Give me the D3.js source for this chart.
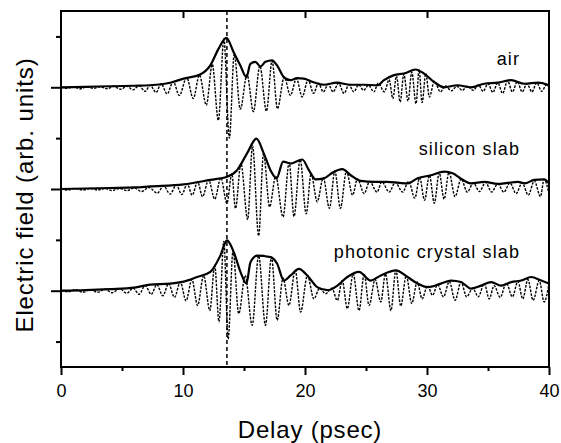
<!DOCTYPE html>
<html><head><meta charset="utf-8">
<script src="https://cdn.jsdelivr.net/npm/d3@7"></script>
<style>body{margin:0;background:#fff}svg{display:block}</style>
</head><body><svg id="c" width="561" height="443"></svg>
<script>
// ---- data ----
const xTicks = [0, 10, 20, 30, 40];
const xMinorTicks = [5, 15, 25, 35];
const yMajorTicks = [1, 3, 5];
const yMinorTicks = [0, 2, 4, 6];
const traceLabels = ["air", "silicon slab", "photonic crystal slab"];
const traceOffsets = [5, 3, 1];
const referenceDelay = 13.6;

const airField = [[0,0],[0.5,-0.02],[1,0.01],[1.6,-0.03],[2.1,0.01],[2.7,-0.02],[3.2,0.01],[3.8,-0.03],[4.3,0.02],[4.9,-0.04],[5.4,0.02],[5.9,-0.05],[6.4,0.03],[6.9,-0.08],[7.3,0.04],[7.8,-0.1],[8.2,0.07],[8.7,-0.13],[9.2,0.11],[9.7,-0.16],[10.3,0.19],[10.84,-0.22],[11.35,0.24],[11.91,-0.35],[12.4,0.45],[12.9,-0.65],[13.35,0.95],[13.8,-1.0],[14.2,0.65],[14.7,-0.43],[15.25,0.25],[15.77,-0.48],[16.3,0.42],[16.84,-0.47],[17.3,0.52],[17.74,-0.42],[18.3,0.2],[18.8,-0.16],[19.3,0.17],[19.77,-0.19],[20.25,0.15],[20.7,-0.12],[21.1,0.08],[21.5,-0.09],[21.9,0.06],[22.3,-0.09],[22.75,0.08],[23.2,-0.12],[23.6,0.05],[24.0,-0.09],[24.4,0.05],[24.8,-0.06],[25.2,0.04],[25.65,-0.09],[26.0,0.08],[26.5,-0.09],[26.9,0.15],[27.2,-0.22],[27.5,0.22],[27.8,-0.29],[28.1,0.26],[28.45,-0.27],[28.75,0.3],[29.1,-0.32],[29.35,0.34],[29.6,-0.3],[29.9,0.27],[30.2,-0.19],[30.6,0.12],[31.1,-0.09],[31.5,0.03],[32.0,-0.07],[32.45,0.02],[32.9,-0.06],[33.3,0.02],[33.8,-0.06],[34.2,0.05],[34.6,-0.08],[35.0,0.07],[35.4,-0.1],[35.8,0.09],[36.2,-0.12],[36.6,0.13],[37.0,-0.09],[37.4,0.11],[37.8,-0.09],[38.2,0.07],[38.6,-0.09],[39.0,0.09],[39.4,-0.08],[39.8,0.05],[40,0.0]];
const airEnvelope = [[0,0],[2,0.01],[4,0.02],[6,0.03],[7.3,0.04],[8.95,0.09],[10.05,0.17],[11.4,0.25],[12.24,0.43],[12.92,0.76],[13.55,0.97],[14.15,0.69],[14.7,0.43],[15.2,0.2],[15.52,0.46],[15.93,0.5],[16.35,0.41],[16.76,0.5],[17.3,0.53],[17.71,0.43],[18.26,0.2],[18.8,0.14],[19.35,0.18],[19.9,0.17],[20.7,0.1],[21.55,0.05],[22.6,0.09],[23.74,0.05],[24.8,0.05],[25.93,0.04],[26.47,0.14],[27.3,0.24],[28.1,0.27],[29.07,0.35],[29.76,0.27],[30.6,0.1],[31.4,0.0],[32.5,0.04],[33.6,0.0],[34.7,0.07],[35.8,0.09],[36.9,0.14],[38.0,0.07],[39.1,0.09],[40,0.04]];

const siliconField = [[0,0],[0.6,-0.02],[1.1,0.01],[1.8,-0.02],[2.4,0.01],[3.0,-0.02],[3.6,0.01],[4.2,-0.03],[4.8,0.01],[5.4,-0.03],[6.0,0.02],[6.6,-0.05],[7.2,0.03],[7.9,-0.08],[8.4,0.06],[8.95,-0.1],[9.45,0.08],[9.9,-0.11],[10.35,0.1],[10.75,-0.12],[11.2,0.14],[11.6,-0.15],[12.1,0.18],[12.6,-0.2],[13.1,0.22],[13.6,-0.28],[14.0,0.3],[14.3,-0.38],[14.75,0.5],[15.3,-0.6],[15.7,0.85],[16.2,-0.92],[16.6,0.7],[17.1,-0.35],[17.6,0.25],[18.2,-0.55],[18.7,0.52],[19.1,-0.54],[19.6,0.58],[20.1,-0.49],[20.5,0.3],[21.0,-0.25],[21.5,0.22],[22.0,-0.38],[22.45,0.35],[22.9,-0.38],[23.4,0.35],[23.9,-0.12],[24.3,0.2],[24.85,-0.09],[25.3,0.15],[25.9,-0.06],[26.3,0.14],[26.9,-0.06],[27.4,0.13],[28.0,-0.06],[28.5,0.15],[29.0,-0.18],[29.4,0.22],[29.8,-0.22],[30.2,0.27],[30.6,-0.28],[31.0,0.32],[31.4,-0.2],[31.8,0.33],[32.3,-0.15],[32.8,0.2],[33.3,-0.06],[33.8,0.12],[34.3,-0.05],[34.8,0.13],[35.3,-0.06],[35.8,0.1],[36.3,-0.06],[36.8,0.12],[37.3,-0.09],[37.8,0.12],[38.3,-0.12],[38.8,0.16],[39.3,-0.15],[39.6,0.19],[40,-0.1]];
const siliconEnvelope = [[0,0],[2,0.01],[4,0.02],[6,0.03],[7.31,0.05],[10.05,0.09],[12.24,0.18],[13.61,0.24],[14.43,0.37],[15.25,0.7],[16.02,0.99],[16.62,0.7],[17.17,0.37],[17.67,0.21],[18.21,0.54],[18.82,0.5],[19.78,0.58],[20.32,0.37],[20.87,0.19],[21.56,0.21],[22.24,0.32],[23.06,0.39],[23.75,0.27],[24.57,0.16],[25.67,0.14],[26.76,0.14],[27.72,0.12],[28.4,0.11],[29.23,0.21],[30.32,0.27],[31.42,0.34],[32.1,0.31],[32.93,0.18],[33.61,0.11],[34.7,0.14],[35.8,0.1],[36.6,0.12],[37.45,0.14],[38.0,0.11],[38.8,0.18],[39.6,0.19],[40,0.11]];

const photonicField = [[0,0],[0.6,-0.02],[1.2,0.02],[1.8,-0.03],[2.4,0.02],[3.0,-0.03],[3.6,0.03],[4.2,-0.04],[4.8,0.04],[5.4,-0.05],[5.9,0.05],[6.4,-0.07],[6.9,0.1],[7.4,-0.07],[7.86,0.12],[8.35,-0.1],[8.82,0.14],[9.3,-0.13],[9.78,0.17],[10.25,-0.2],[10.73,0.22],[11.2,-0.29],[11.69,0.3],[12.2,-0.39],[12.6,0.5],[12.95,-0.61],[13.35,0.97],[13.7,-0.95],[14.1,0.78],[14.57,-0.45],[15.1,0.3],[15.67,-0.68],[16.2,0.69],[16.76,-0.68],[17.25,0.66],[17.72,-0.58],[18.2,0.25],[18.68,-0.29],[19.2,0.4],[19.64,-0.42],[20.2,0.3],[20.73,-0.16],[21.2,0.05],[21.69,-0.06],[22.2,0.05],[22.65,-0.19],[23.05,0.2],[23.47,-0.35],[23.95,0.33],[24.43,-0.39],[24.85,0.33],[25.25,-0.29],[25.75,0.22],[26.21,-0.22],[26.6,0.33],[27.04,-0.39],[27.45,0.4],[27.85,-0.3],[28.3,0.3],[28.75,-0.25],[29.2,0.17],[29.6,-0.16],[30.05,0.1],[30.45,-0.09],[30.87,0.12],[31.35,-0.12],[31.83,0.18],[32.3,-0.19],[32.79,0.17],[33.25,-0.12],[33.75,0.05],[34.2,-0.12],[34.7,0.14],[35.1,-0.16],[35.5,0.1],[36.0,-0.13],[36.5,0.15],[37.0,-0.12],[37.45,0.18],[37.85,-0.16],[38.27,0.22],[38.7,-0.19],[39.2,0.2],[39.6,-0.22],[40,0.14]];
const photonicEnvelope = [[0,0],[2,0.01],[4,0.03],[6,0.06],[7.31,0.12],[8.95,0.14],[10.05,0.18],[11.15,0.27],[12.24,0.37],[13.06,0.69],[13.61,0.99],[14.16,0.76],[14.71,0.37],[15.2,0.14],[15.53,0.56],[16.08,0.69],[17.17,0.66],[17.72,0.53],[18.27,0.2],[18.82,0.3],[19.5,0.43],[20.19,0.3],[21.0,0.07],[21.83,0.01],[22.65,0.1],[23.47,0.27],[24.43,0.37],[25.39,0.2],[26.21,0.3],[27.45,0.4],[28.4,0.27],[29.23,0.14],[30.05,0.07],[31.14,0.14],[31.97,0.2],[32.79,0.17],[33.61,0.04],[34.43,0.1],[35.26,0.17],[36.08,0.1],[36.9,0.17],[37.72,0.2],[38.54,0.27],[39.36,0.2],[40,0.14]];

const fields = [airField, siliconField, photonicField];
const envelopes = [airEnvelope, siliconEnvelope, photonicEnvelope];
const labelLevels = [5.44, 3.67, 1.64];

// ---- layout ----
const svg = d3.select("#c");
const L = 61, R = 549, T = 11, B = 367;
const x = d3.scaleLinear().domain([0, 40]).range([L, R]);
const y = d3.scaleLinear().domain([-0.5, 6.5]).range([B, T]);
const font = "'Liberation Sans', Arial, Helvetica, sans-serif";

// reference dashed line
svg.append("line")
  .attr("x1", x(referenceDelay)).attr("x2", x(referenceDelay))
  .attr("y1", T).attr("y2", B)
  .attr("stroke", "#000").attr("stroke-width", 1.5)
  .attr("stroke-dasharray", "4,3");

svg.append("clipPath").attr("id", "pc").append("rect")
  .attr("x", L).attr("y", T).attr("width", R - L).attr("height", B - T);
const plot = svg.append("g").attr("clip-path", "url(#pc)");

fields.forEach((f, i) => {
  const off = traceOffsets[i];
  const line = d3.line().x(d => x(d[0])).y(d => y(d[1] + off)).curve(d3.curveMonotoneX);
  plot.append("path").attr("d", line(f))
    .attr("fill", "none").attr("stroke", "#000").attr("stroke-width", 1.4)
    .attr("stroke-dasharray", "2.5,1.3");
  const eline = d3.line().x(d => x(d[0])).y(d => y(d[1] + off)).curve(d3.curveMonotoneX);
  plot.append("path").attr("d", eline(envelopes[i]))
    .attr("fill", "none").attr("stroke", "#000").attr("stroke-width", 2.2)
    .attr("stroke-linejoin", "round");
});

// axes
const gBottom = svg.append("g").attr("transform", `translate(0,${B})`)
  .call(d3.axisBottom(x).tickValues(xTicks).tickSize(8).tickPadding(9).tickFormat(d3.format("d")));
const gBottomMinor = svg.append("g").attr("transform", `translate(0,${B})`)
  .call(d3.axisBottom(x).tickValues(xMinorTicks).tickSize(4).tickFormat(""));
const gTop = svg.append("g").attr("transform", `translate(0,${T})`)
  .call(d3.axisBottom(x).tickValues(xTicks.slice(1, -1)).tickSize(7).tickFormat(""));
const gLeft = svg.append("g").attr("transform", `translate(${L},0)`)
  .call(d3.axisLeft(y).tickValues(yMajorTicks).tickSize(10).tickFormat(""));
const gLeftMinor = svg.append("g").attr("transform", `translate(${L},0)`)
  .call(d3.axisLeft(y).tickValues(yMinorTicks).tickSize(5).tickFormat(""));
[gBottom, gBottomMinor, gTop, gLeft, gLeftMinor].forEach(g => {
  g.select(".domain").remove();
  g.selectAll(".tick line").attr("stroke", "#000").attr("stroke-width", 2);
});
gBottom.selectAll(".tick text").attr("font-family", font).attr("font-size", 18).attr("fill", "#000");

// frame
svg.append("rect").attr("x", L).attr("y", T).attr("width", R - L).attr("height", B - T)
  .attr("fill", "none").attr("stroke", "#000").attr("stroke-width", 2);

// trace labels
traceLabels.forEach((t, i) => {
  svg.append("text").attr("x", 520).attr("y", y(labelLevels[i]))
    .attr("text-anchor", "end").attr("font-family", font).attr("font-size", 18)
    .attr("letter-spacing", 1.1).text(t);
});

// axis titles
svg.append("text").attr("x", (L + R) / 2 + 5).attr("y", 438)
  .attr("text-anchor", "middle").attr("font-family", font).attr("font-size", 24)
  .attr("letter-spacing", 0.8).text("Delay (psec)");
svg.append("text").attr("transform", "translate(33,195) rotate(-90)")
  .attr("text-anchor", "middle").attr("font-family", font).attr("font-size", 24)
  .attr("letter-spacing", 0.9).text("Electric field (arb. units)");
</script>
</body></html>
